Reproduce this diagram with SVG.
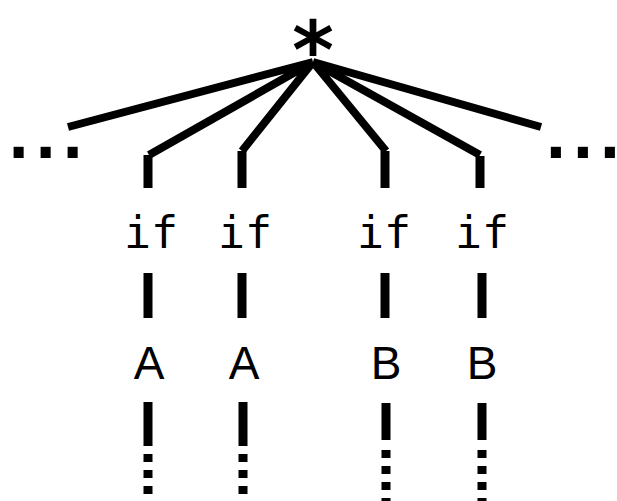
<svg xmlns="http://www.w3.org/2000/svg" width="617" height="501" viewBox="0 0 617 501">
<style>
.e{stroke:#000;stroke-width:8;fill:none}
.v{stroke:#000;stroke-width:9;fill:none}
.d{stroke:#000;stroke-width:9;stroke-dasharray:8 8;fill:none}
.mono{font-family:"DejaVu Sans Mono",monospace;font-size:45px;fill:#000}
.big{font-family:"DejaVu Sans Mono",monospace;font-weight:bold;fill:#000}
.dots{font-family:"DejaVu Sans Mono",monospace;font-weight:bold;font-size:62px;letter-spacing:-10.3px;fill:#000}
.sans{font-family:"Liberation Sans",Arial,sans-serif;font-size:46px;fill:#000}
</style>
<rect width="617" height="501" fill="#fff"/>
<g id="root"><text class="big" x="313" y="78" font-size="80" text-anchor="middle">*</text></g>
<g id="dotsL"><text class="dots" x="0" y="158">...</text></g>
<g id="dotsR"><text class="dots" x="537.3" y="158">...</text></g>
<g id="if1"><text class="mono" x="151" y="248" text-anchor="middle">if</text></g>
<g id="if2"><text class="mono" x="245" y="248" text-anchor="middle">if</text></g>
<g id="if3"><text class="mono" x="384" y="248" text-anchor="middle">if</text></g>
<g id="if4"><text class="mono" x="482" y="248" text-anchor="middle">if</text></g>
<g id="a1"><text class="sans" x="149" y="379" text-anchor="middle">A</text></g>
<g id="a2"><text class="sans" x="244" y="379" text-anchor="middle">A</text></g>
<g id="b1"><text class="sans" x="386" y="379" text-anchor="middle">B</text></g>
<g id="b2"><text class="sans" x="482" y="379" text-anchor="middle">B</text></g>
<g id="connectors">
<path class="e" d="M313 62 L68 127 M313 62 L149 155 M313 62 L242 151 M313 62 L386 151 M313 62 L480 155 M313 62 L541 127"/>
<path class="v" d="M148 155 V188 M242 151 V188 M385 151 V188 M480 156 V188"/>
<path class="v" d="M148 273 V318 M242 273 V318 M385 273 V318 M482 273 V318"/>
<path class="v" d="M148 402 V446 M243 402 V446 M386 403 V440 M482 403 V440"/>
<path class="d" d="M148 454 V501 M243 454 V501"/>
<path class="d" d="M386 450 V501 M482 450 V501"/>
</g>
</svg>
